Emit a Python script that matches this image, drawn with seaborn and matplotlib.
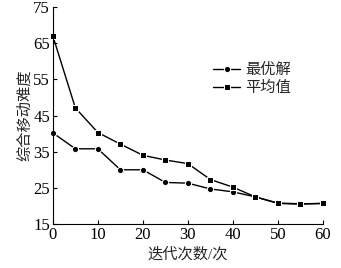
import seaborn as sns
import matplotlib.pyplot as plt
import pandas as pd

# --- data ---
iterations = [0, 5, 10, 15, 20, 25, 30, 35, 40, 45, 50, 55, 60]
best_values = [40.2, 35.8, 35.8, 30.0, 30.0, 26.5, 26.3, 24.7, 23.9, 22.5, 20.7, 20.5, 20.7]
mean_values = [67.0, 47.1, 40.3, 37.1, 34.0, 32.7, 31.7, 27.3, 25.2, 22.5, 20.8, 20.6, 20.7]
series_names = ["最优解", "平均值"]
y_ticks = [15, 25, 35, 45, 55, 65, 75]
x_ticks = [0, 10, 20, 30, 40, 50, 60]

df = pd.DataFrame({
    "iter": iterations * 2,
    "value": best_values + mean_values,
    "series": [series_names[0]] * len(iterations) + [series_names[1]] * len(iterations),
})

sns.set_theme(style="ticks")
plt.rcParams["font.family"] = ["Liberation Serif", "Noto Sans CJK SC"]

fig, ax = plt.subplots(figsize=(3.41, 2.68), dpi=100)
fig.subplots_adjust(left=0.155, right=0.947, bottom=0.164, top=0.974)

sns.lineplot(ax=ax, data=df, x="iter", y="value", style="series",
             markers={"最优解": "o", "平均值": "s"}, dashes=False,
             color="black", linewidth=1, markersize=4.5, clip_on=False)

ax.set_xlim(0, 60)
ax.set_ylim(15, 75)
ax.set_xticks(x_ticks)
ax.set_yticks(y_ticks)
ax.tick_params(direction="in", length=3, width=0.8, labelsize=12, pad=2, colors="black")
for s in ["left", "bottom"]:
    ax.spines[s].set_linewidth(0.8)
    ax.spines[s].set_color("black")
sns.despine(ax=ax)

ax.set_xlabel("迭代次数/次", fontsize=11, labelpad=3)
ax.set_ylabel("综合移动难度", fontsize=11, labelpad=1)

ax.legend(title=None, frameon=False, fontsize=11, loc="upper left",
          bbox_to_anchor=(0.57, 0.77), handlelength=1.8, handletextpad=0.3,
          labelspacing=0.25, borderaxespad=0)

fig.savefig("out.png", dpi=100)
